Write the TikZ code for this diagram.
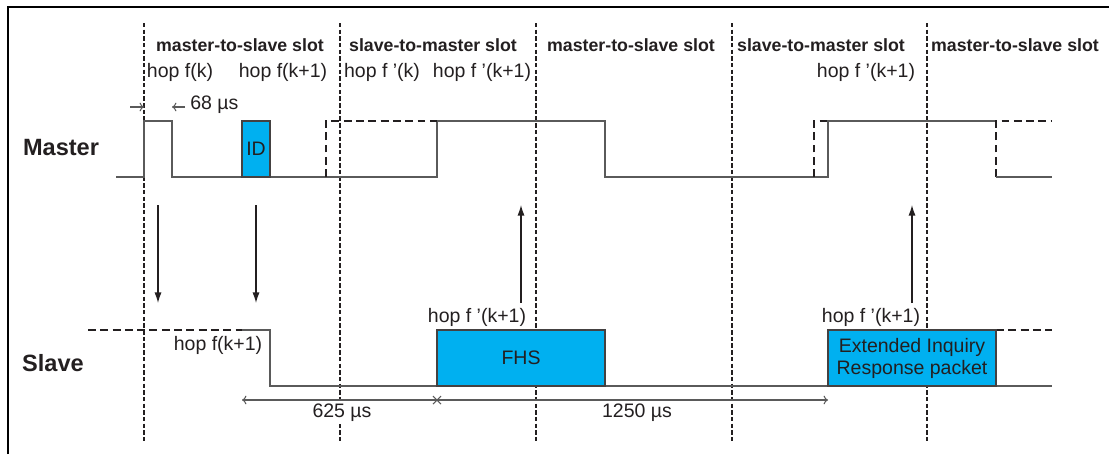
\documentclass[tikz,border=0pt]{standalone}
\usepackage{fontspec}
\setmainfont{Liberation Sans}
\usetikzlibrary{arrows.meta}
\definecolor{txt}{HTML}{231F20}
\definecolor{wire}{HTML}{5A5A5A}
\definecolor{pkt}{HTML}{00B0F0}

\begin{document}
\begin{tikzpicture}[
  x=0.02cm, y=-0.02cm,
  >=Stealth,
  sig/.style={draw=wire, line width=0.8pt},
  sigdash/.style={draw=txt, line width=0.8pt, dash pattern=on 4.5pt off 2.5pt},
  slotline/.style={draw=txt, line width=0.8pt, dash pattern=on 2.5pt off 1.3pt},
  packet/.style={draw=txt!85, fill=pkt, line width=0.6pt, inner sep=0pt, minimum height=1.12cm, align=center, text=txt, font=\fontsize{11.1}{12.5}\selectfont},
  slotlbl/.style={text=txt, font=\fontsize{10.1}{12}\selectfont\bfseries},
  hoplbl/.style={text=txt, inner sep=0pt, font=\fontsize{11.1}{13}\selectfont},
  rolelbl/.style={text=txt, font=\fontsize{13.4}{15}\selectfont\bfseries},
  hop/.style={draw=txt, line width=0.7pt, -{Latex[length=6pt,width=4pt]}},
  dim/.style={draw=wire, line width=0.6pt, -{To[length=2.5pt,width=5pt]}},
]
\useasboundingbox (0,0) rectangle (1109,454);
\draw[line width=1.7pt] (8,454) -- (8,7) -- (1109,7);

\foreach \x in {144,340,536,732,927}
  \draw[slotline] (\x,23) -- (\x,443);

\node[slotlbl] (s1) at (240,45) {master-to-slave slot};
\node[slotlbl] (s2) at (433,45) {slave-to-master slot};
\node[slotlbl] (s3) at (631,45) {master-to-slave slot};
\node[slotlbl] (s4) at (821,45) {slave-to-master slot};
\node[slotlbl] (s5) at (1015,45) {master-to-slave slot};

\node[hoplbl] (hk) at (180,72) {hop f(k)};
\node[hoplbl] (hk1) at (283,72) {hop f(k+1)};
\node[hoplbl] (hpk) at (382,72) {hop f '(k)};
\node[hoplbl] (hpk1) at (482,72) {hop f '(k+1)};
\node[hoplbl] (hpk2) at (866,72) {hop f '(k+1)};

\node[rolelbl] (master) at (61,148) {Master};
\node[rolelbl] (slave) at (53,363) {Slave};

% master line
\draw[sig] (116,177) -- (144,177) -- (144,121) -- (172,121) -- (172,177) -- (437,177)
  -- (437,121) -- (605,121) -- (605,177) -- (828,177) -- (828,121) -- (996,121);
\draw[sigdash] (326,177) -- (326,121) -- (437,121);
\draw[sigdash] (814,177) -- (814,121) -- (828,121);
\draw[sigdash] (996,177) -- (996,121) -- (1052,121);
\draw[sig] (996,177) -- (1052,177);
\node[packet, minimum width=0.56cm] (id) at (256,149) {ID};

% slave line
\draw[sigdash] (88,330) -- (242,330);
\draw[sig] (242,330) -- (270,330) -- (270,386) -- (1052,386);
\draw[sigdash] (996,330) -- (1052,330);
\node[packet, minimum width=3.36cm] (fhs) at (521,358) {FHS};
\node[packet, minimum width=3.36cm] (eir) at (912,358) {Extended Inquiry\\Response packet};
\node[hoplbl] (sk1) at (218,345) {hop f(k+1)};
\node[hoplbl] (fk1) at (477,317) {hop f '(k+1)};
\node[hoplbl] (ek1) at (871,317) {hop f '(k+1)};

% hops
\coordinate (d1a) at (158,205); \coordinate (d1b) at (158,303);
\coordinate (d2a) at (256,205); \coordinate (d2b) at (256,303);
\coordinate (u1a) at (521,303); \coordinate (u1b) at (521,205);
\coordinate (u2a) at (912,303); \coordinate (u2b) at (912,205);
\draw[hop] (d1a) -- (d1b);
\draw[hop] (d2a) -- (d2b);
\draw[hop] (u1a) -- (u1b);
\draw[hop] (u2a) -- (u2b);

% 68 us
\coordinate (g0) at (130,107); \coordinate (g1) at (144,107);
\coordinate (g2) at (185,107); \coordinate (g3) at (172,107);
\draw[dim] (g0) -- (g1);
\draw[dim] (g2) -- (g3);
\node[hoplbl, anchor=west] (t68) at (190,105) {68 µs};

% slot lengths
\coordinate (m0) at (242,400); \coordinate (m1) at (437,400); \coordinate (m2) at (828,400);
\draw[dim] (m1) -- (m0);
\draw[dim] (m1) -- (m2);
\draw[draw=wire, line width=0.6pt] ([shift={(-4,-4)}]m1) -- ([shift={(4,4)}]m1)
  ([shift={(-4,4)}]m1) -- ([shift={(4,-4)}]m1);
\node[hoplbl, fill=white, inner sep=1pt] (t625) at (342,413) {625 µs};
\node[hoplbl] (t1250) at (637,413) {1250 µs};

\end{tikzpicture}
\end{document}
